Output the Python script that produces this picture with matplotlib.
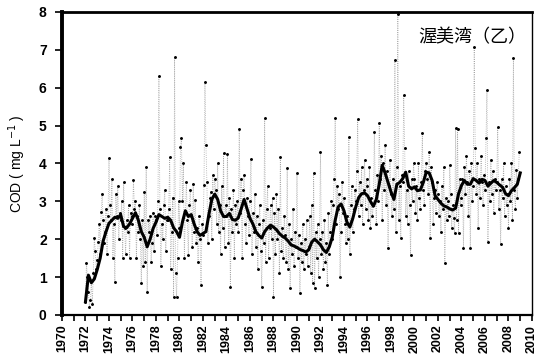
import numpy as np
import matplotlib
matplotlib.use("Agg")
import matplotlib.pyplot as plt
from matplotlib.ticker import MultipleLocator

plt.rcParams['font.family'] = ['Liberation Sans', 'Noto Sans CJK JP', 'DejaVu Sans']

# monthly COD observations (mg/L), Jan 1972 onwards
cod_1970s = [
    0.35, 1.37, 1.0, 0.6, 0.21, 0.4, 0.9, 0.3, 1.1, 2.03, 1.7, 1.2,
    1.45, 1.93, 2.4, 1.6, 2.73, 3.2, 2.5, 1.9, 2.2, 2.8, 1.6, 2.6,
    4.15, 2.9, 2.5, 3.6, 1.5, 2.4, 0.87, 3.2, 2.6, 3.4, 2.0, 2.7,
    2.5, 3.0, 1.5, 3.5, 2.3, 1.6, 2.5, 2.2, 2.9, 1.5, 2.7, 2.4,
    2.6, 3.55, 2.8, 3.0, 1.5, 2.6, 2.2, 2.9, 2.0, 0.84, 2.5, 1.3,
    3.25, 1.4, 3.9, 0.61, 2.5, 2.2, 2.6, 1.4, 1.9, 2.7, 1.7, 2.6,
    2.5, 2.1, 3.0, 6.3, 2.8, 1.3, 2.4, 2.0, 2.9, 3.3, 1.7, 2.5,
    2.5, 2.8, 4.17, 1.2, 2.2, 3.1, 0.47, 6.8, 1.1, 0.47, 1.5, 3.0,
]
cod_1980s = [
    2.3, 4.43, 4.67, 3.0, 4.0, 1.5, 2.7, 3.5, 2.5, 1.58, 2.9, 3.3,
    2.6, 1.8, 3.47, 2.2, 3.03, 1.9, 2.3, 1.4, 2.6, 2.0, 0.79, 2.4,
    2.1, 3.43, 6.15, 4.5, 3.5, 1.9, 2.6, 3.1, 3.25, 2.0, 3.7, 2.8,
    3.6, 3.3, 2.4, 4.0, 2.2, 2.9, 1.6, 3.4, 2.3, 4.27, 1.8, 2.9,
    2.6, 4.25, 1.9, 3.1, 0.74, 2.8, 2.2, 3.3, 1.5, 2.9, 2.4, 3.0,
    2.2, 4.9, 2.7, 3.6, 1.5, 3.3, 3.7, 2.4, 1.9, 3.1, 2.6, 2.1,
    3.0, 4.13, 1.6, 2.7, 2.2, 3.2, 1.8, 2.6, 1.2, 2.4, 2.9, 1.7,
    0.74, 2.5, 1.9, 5.2, 1.4, 2.8, 3.4, 1.5, 2.3, 2.9, 2.0, 3.1,
    0.47, 2.7, 1.6, 3.2, 2.0, 2.8, 1.1, 4.17, 1.7, 2.3, 1.5, 2.6,
    2.1, 1.4, 3.87, 1.2, 2.4, 0.71, 2.0, 1.6, 2.8, 1.3, 2.2, 1.8,
]
cod_1990s = [
    3.75, 1.5, 2.1, 0.58, 1.9, 1.4, 2.4, 1.2, 2.0, 1.6, 2.5, 1.3,
    1.8, 2.6, 1.1, 2.9, 0.84, 3.75, 0.71, 2.2, 1.5, 2.4, 1.0, 2.0,
    4.3, 1.6, 2.2, 1.2, 2.5, 1.4, 1.9, 0.8, 2.7, 1.6, 2.2, 3.0,
    2.0, 2.9, 3.6, 5.2, 2.4, 3.4, 2.8, 3.2, 1.0, 2.2, 3.5, 2.7,
    3.1, 2.4, 1.9, 2.6, 2.0, 4.7, 1.6, 2.9, 3.4, 2.2, 2.8, 3.3,
    3.0, 3.8, 5.17, 2.6, 3.5, 2.9, 3.9, 2.4, 3.3, 4.1, 2.8, 3.6,
    3.4, 2.5, 3.9, 2.3, 3.1, 2.6, 2.9, 4.83, 3.3, 2.4, 3.7, 3.0,
    5.06, 3.6, 4.2, 2.5, 4.0, 3.3, 4.5, 2.9, 3.8, 1.77, 3.4, 4.1,
    3.2, 2.6, 3.6, 2.8, 6.73, 2.2, 3.9, 7.95, 2.5, 3.4, 2.03, 3.7,
    3.5, 5.8, 4.4, 2.6, 3.3, 2.4, 3.8, 2.9, 1.58, 3.6, 3.0, 4.0,
]
cod_2000s = [
    3.6, 2.7, 3.4, 2.5, 4.0, 3.1, 2.8, 3.5, 4.8, 3.3, 2.9, 3.8,
    4.0, 3.6, 3.2, 4.3, 2.03, 3.9, 3.5, 2.4, 3.1, 3.3, 2.7, 3.5,
    3.2, 2.6, 3.0, 2.2, 3.4, 2.8, 3.9, 1.37, 3.1, 2.5, 3.0, 2.6,
    3.96, 3.2, 2.3, 2.9, 2.56, 2.16, 4.93, 2.5, 4.9, 2.16, 3.6, 2.9,
    3.1, 3.6, 1.77, 3.9, 3.2, 4.2, 3.5, 2.6, 3.8, 1.77, 4.0, 3.0,
    3.4, 7.07, 4.4, 3.2, 4.0, 2.3, 3.6, 3.1, 4.2, 3.5, 2.9, 3.7,
    3.3, 4.67, 5.94, 1.93, 3.5, 3.0, 4.1, 3.2, 3.8, 2.7, 3.6, 3.3,
    3.5, 4.96, 2.8, 3.3, 1.87, 3.6, 3.1, 4.0, 2.6, 3.4, 2.9, 3.2,
    2.3, 3.6, 3.0, 4.0, 2.5, 6.78, 3.3, 2.8, 3.83, 3.1, 3.6, 4.3,
]

# running mean, sampled every quarter from 1972.0
trend_1970s = [
    0.35, 1.05, 0.85, 0.95, 1.2, 1.5, 1.95, 2.2, 2.42, 2.5, 2.58, 2.55,
    2.64, 2.33, 2.3, 2.4, 2.55, 2.7, 2.5, 2.2, 2.05, 1.8, 2.0, 2.28,
    2.45, 2.65, 2.6, 2.55, 2.58, 2.5, 2.3, 2.2,
]
trend_1980s = [
    2.05, 2.45, 2.75, 2.6, 2.65, 2.4, 2.2, 2.1, 2.15, 2.2, 2.65, 3.05,
    3.19, 3.05, 2.75, 2.6, 2.6, 2.68, 2.52, 2.5, 2.56, 2.8, 3.05, 2.8,
    2.55, 2.4, 2.2, 2.1, 2.03, 2.2, 2.3, 2.37, 2.32, 2.25, 2.15, 2.08,
    2.03, 1.95, 1.85, 1.82,
]
trend_1990s = [
    1.78, 1.73, 1.7, 1.66, 1.72, 1.92, 2.0, 1.93, 1.85, 1.72, 1.65, 1.8,
    2.05, 2.5, 2.85, 2.93, 2.75, 2.45, 2.32, 2.55, 2.85, 3.1, 3.2, 3.22,
    3.15, 3.0, 2.87, 3.05, 3.45, 3.95, 3.75, 3.5, 3.25, 3.05, 3.45, 3.5,
    3.6, 3.77, 3.4, 3.33,
]
trend_2000s = [
    3.38, 3.28, 3.3, 3.5, 3.77, 3.75, 3.55, 3.15, 3.05, 2.95, 2.88, 2.85,
    2.8, 2.77, 2.82, 3.2, 3.42, 3.55, 3.45, 3.45, 3.6, 3.55, 3.48, 3.58,
    3.55, 3.4, 3.48, 3.55, 3.5, 3.43, 3.37, 3.2, 3.15, 3.28, 3.36, 3.45,
    3.75,
]

site_name = "渥美湾（乙）"
year_ticks = list(range(1970, 2011, 2))

cod = np.array(cod_1970s + cod_1980s + cod_1990s + cod_2000s)
cod_t = 1972 + np.arange(len(cod)) / 12
trend = np.array(trend_1970s + trend_1980s + trend_1990s + trend_2000s)
trend_t = 1972 + np.arange(len(trend)) / 4

fig = plt.figure(figsize=(5.39, 3.62), dpi=100)
ax = fig.add_axes([0.115, 0.13, 0.872, 0.837])

ax.plot(cod_t, cod, linestyle=':', color='0.65', lw=0.6,
        marker='.', markersize=2.2, markerfacecolor='black',
        markeredgecolor='black')
ax.plot(trend_t, trend, color='black', lw=2.2, solid_joinstyle='round')

ax.set_xlim(1970, 2010)
ax.set_ylim(0, 8)
ax.set_xticks(year_ticks)
ax.set_xticklabels([str(y) for y in year_ticks], rotation=90,
                   fontsize=9, fontweight='bold')
ax.xaxis.set_minor_locator(MultipleLocator(1))
ax.yaxis.set_major_locator(MultipleLocator(1))
for lab in ax.get_yticklabels():
    lab.set_fontsize(10)
    lab.set_fontweight('bold')
ax.tick_params(axis='both', which='both', direction='out', width=1.2)
ax.tick_params(axis='x', which='major', length=4, pad=3)
ax.tick_params(axis='x', which='minor', length=4)
ax.tick_params(axis='y', length=5, pad=6)

ax.spines['left'].set_linewidth(2.8)
ax.spines['top'].set_linewidth(2.0)
ax.spines['bottom'].set_linewidth(1.6)
ax.spines['right'].set_linewidth(1.0)

ax.set_ylabel("COD ( mg L$^{-1}$ )", fontsize=10, labelpad=8)
ax.text(2000.3, 7.33, site_name, fontsize=13, va='center',
        family=['Noto Sans CJK JP', 'DejaVu Sans'])

fig.savefig("out.png", dpi=100)
